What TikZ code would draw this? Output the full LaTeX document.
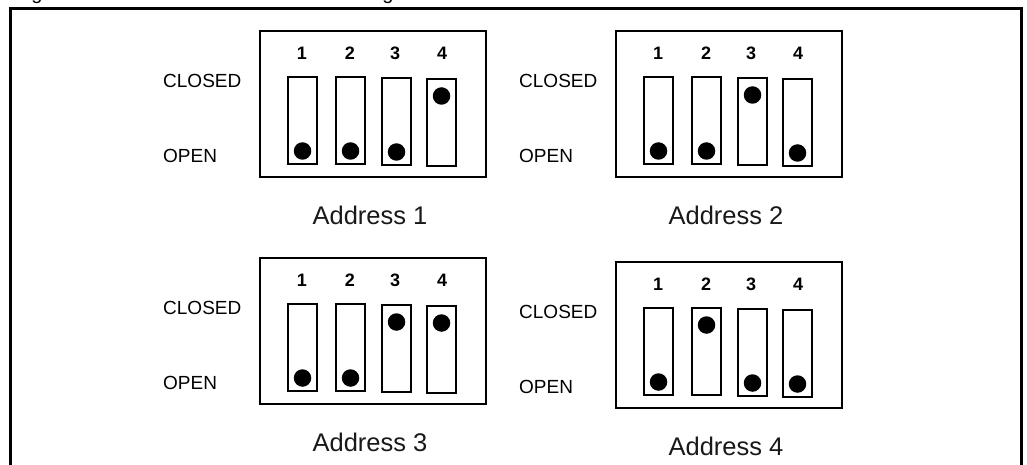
\documentclass[tikz,border=0pt]{standalone}
\usepackage{fontspec}
\setmainfont{Liberation Sans}
\tikzset{
  panelbox/.style={draw, line width=2pt, minimum width=226pt, minimum height=146pt, inner sep=0pt},
  slot/.style={draw, line width=1.8pt, minimum width=29pt, minimum height=87pt, inner sep=0pt},
  dot/.style={circle, fill=black, minimum size=17.5pt, inner sep=0pt},
  numlabel/.style={inner sep=0pt, font=\fontsize{18}{20}\selectfont\bfseries},
  statelabel/.style={inner sep=0pt, anchor=west, font=\fontsize{19}{22}\selectfont},
  addrlabel/.style={inner sep=0pt, font=\fontsize{25.5}{28}\selectfont, text=black!90},
  frameline/.style={line width=3pt}
}
\newcommand{\dipswitch}[5]{% #1 name, #2 x centre, #3 top, #4 state, #5 number
  \node[slot] (#1) at (#2,#3+43.5) {};
  \if#4c
    \node[dot] (#1-dot) at (#2,#3+17) {};
  \else
    \node[dot] (#1-dot) at (#2,#3+74) {};
  \fi
}
\newcommand{\dippanel}[8]{% #1 name, #2 left, #3 top, #4-#7 states, #8 address label
  \node[panelbox] (#1) at (#2+113,#3+73) {};
  \dipswitch{#1-s1}{#2+42.5}{#3+46}{#4}{1}
  \dipswitch{#1-s2}{#2+90.5}{#3+46}{#5}{2}
  \dipswitch{#1-s3}{#2+136.5}{#3+47}{#6}{3}
  \dipswitch{#1-s4}{#2+181.5}{#3+48}{#7}{4}
  \node[numlabel] (#1-n1) at (#2+42,#3+22) {1};
  \node[numlabel] (#1-n2) at (#2+90,#3+22) {2};
  \node[numlabel] (#1-n3) at (#2+135,#3+22) {3};
  \node[numlabel] (#1-n4) at (#2+182,#3+22) {4};
  \node[statelabel] (#1-closed) at (#2-97,#3+50) {CLOSED};
  \node[statelabel] (#1-open) at (#2-97,#3+125) {OPEN};
  \node[addrlabel] (#1-addr) at (#2+110,#3+184) {#8};
}
\begin{document}
\begin{tikzpicture}[x=1pt,y=-1pt]
  \useasboundingbox (0,0) rectangle (1027,465);
  \fill[white] (0,0) rectangle (1027,465);
  \begin{scope}
    \clip (0,0) rectangle (1027,465);
    \node[anchor=base, inner sep=0pt, font=\fontsize{20}{22}\selectfont] (capg1) at (37,-0.5) {g};
    \node[anchor=base, inner sep=0pt, font=\fontsize{20}{22}\selectfont] (capg2) at (388,-0.5) {g};
  \end{scope}
  \draw[frameline] (10.5,470) |- (1021,9) -- (1021,470);
  \dippanel{a1}{260}{31}{o}{o}{o}{c}{Address 1}
  \dippanel{a2}{616}{31}{o}{o}{c}{o}{Address 2}
  \dippanel{a3}{260}{258}{o}{o}{c}{c}{Address 3}
  \dippanel{a4}{616}{262}{o}{c}{o}{o}{Address 4}
\end{tikzpicture}
\end{document}
